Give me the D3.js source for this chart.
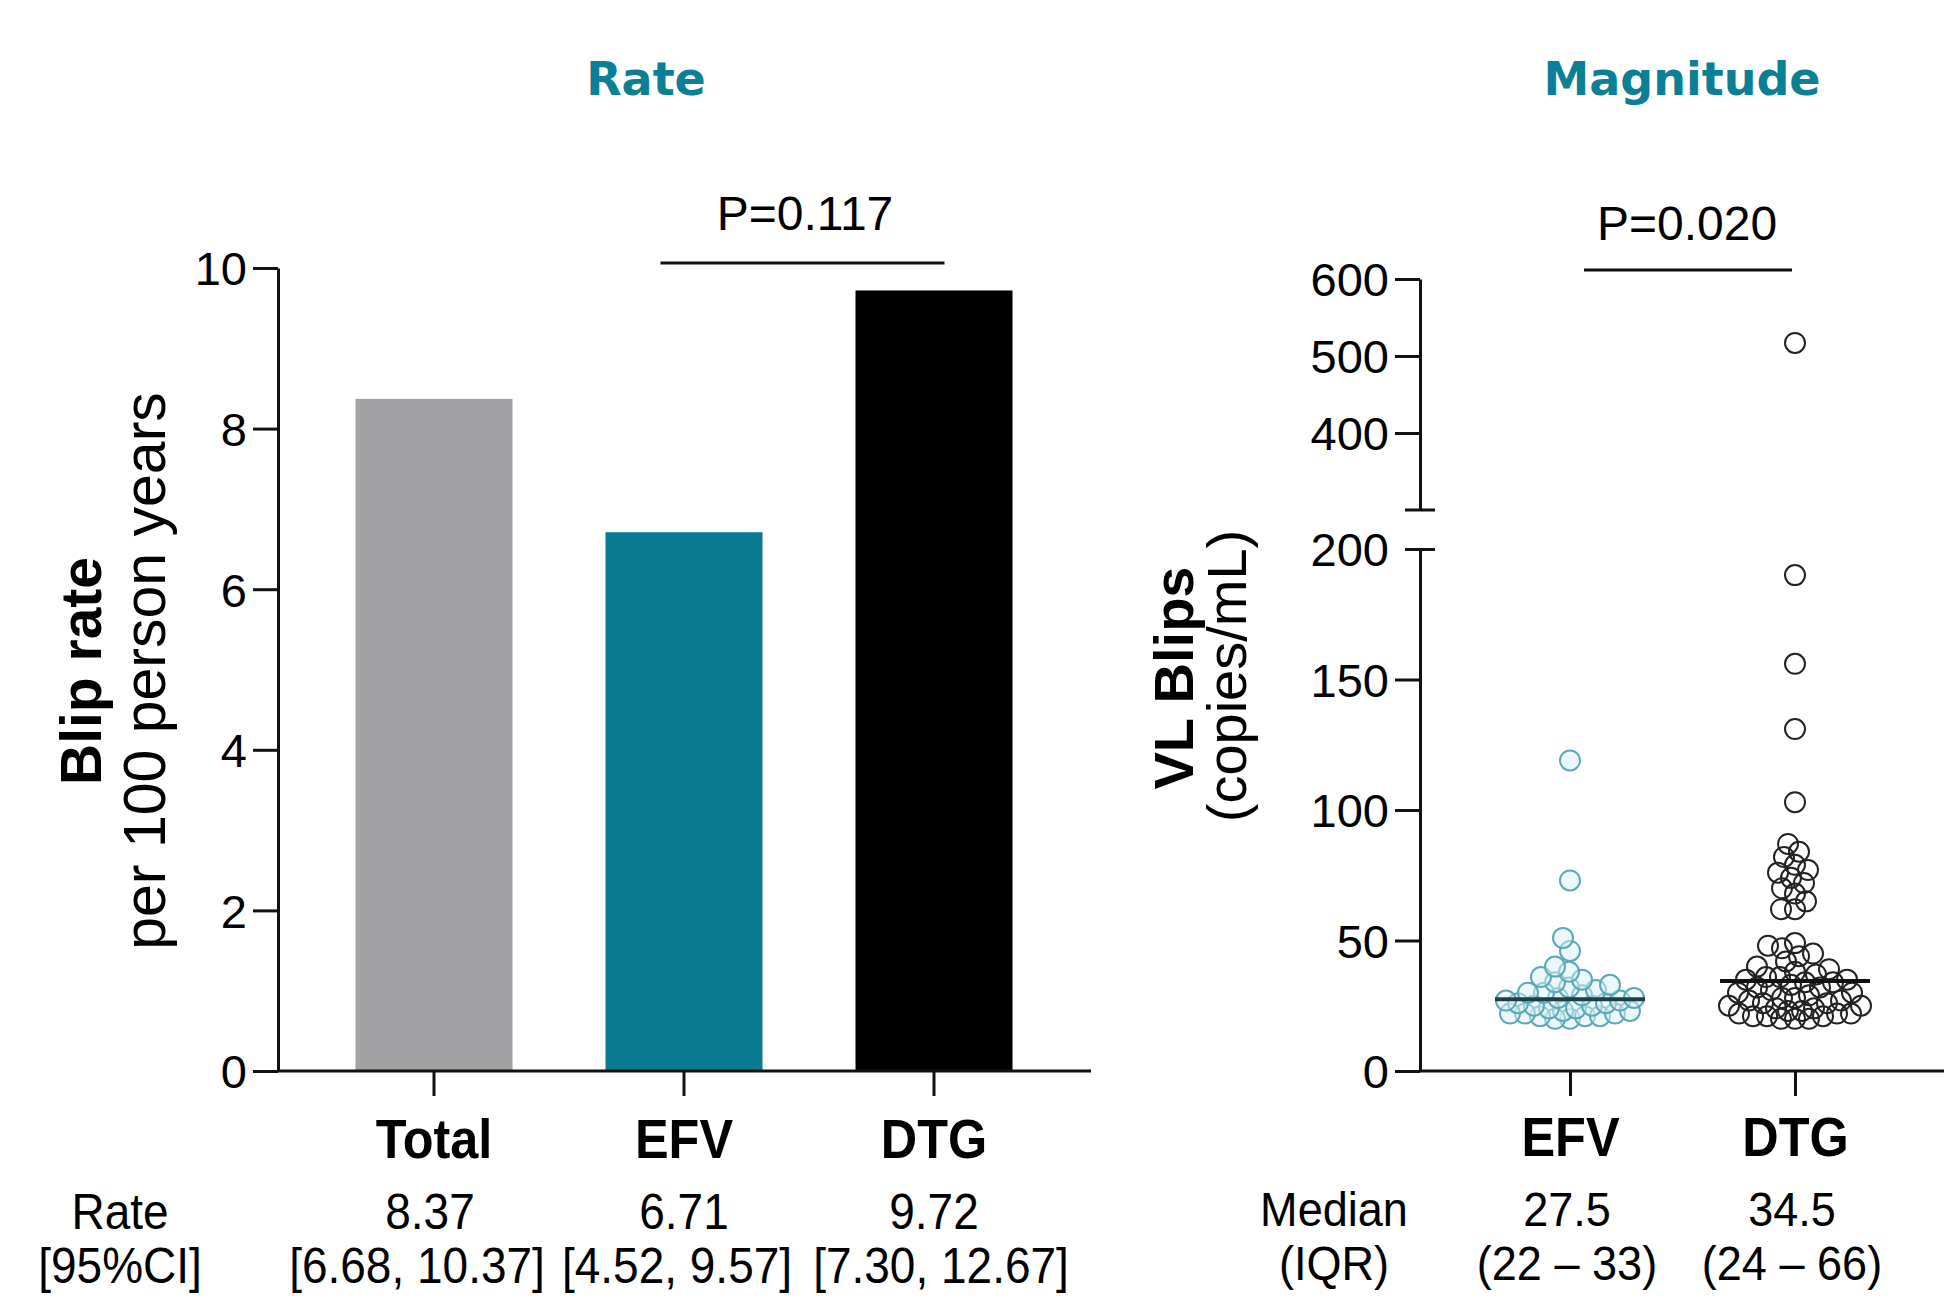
<!DOCTYPE html>
<html>
<head>
<meta charset="utf-8">
<script src="https://cdn.jsdelivr.net/npm/d3@7"></script>
<style>
  html, body { margin: 0; padding: 0; background: #fff; }
  svg { display: block; }
  text { font-family: "Liberation Sans", Arial, sans-serif; fill: #000; }
</style>
</head>
<body>
<svg id="chart" width="1944" height="1303"></svg>
<script>
// ---------- DATA ----------
const rateCategories = ["Total", "EFV", "DTG"];
const rateValues = [8.37, 6.71, 9.72];
const rateCI = ["[6.68, 10.37]", "[4.52, 9.57]", "[7.30, 12.67]"];
const rateTicks = [0, 2, 4, 6, 8, 10];
const barColors = ["#a2a2a5", "#0b7b92", "#000000"];

const blipCategories = ["EFV", "DTG"];
const efvBlips = [119, 73, 51, 46, 40, 38, 36, 35, 34, 33, 32, 31, 30, 30, 29, 28, 28, 27, 27, 26, 26, 25, 25, 24, 24, 23, 23, 22, 22, 22, 21, 21, 21, 20, 20];
const dtgBlips = [517, 190, 156, 131, 103, 87, 84, 82, 79, 77, 76, 74, 72, 70, 68, 65, 62, 62,
  49, 48, 47, 45, 44, 42, 40, 39, 38, 37, 36, 36, 35, 35, 34, 34, 33, 32, 32, 31, 30, 30, 29, 28, 28, 27, 27, 26, 26, 25, 25, 24, 24, 23, 23, 22, 22, 22, 21, 21, 21, 20, 20, 20];
const blipMedians = [27.5, 34.5];
const blipIQR = ["(22 \u2013 33)", "(24 \u2013 66)"];
const lowTicks = [0, 50, 100, 150, 200];
const highTicks = [400, 500, 600];

// ---------- SETUP ----------
const svg = d3.select("#chart");
const teal = "#0a7f96";
const ink = "#111";

function condensed(sel, sx) {
  sel.each(function () {
    const t = d3.select(this);
    const x = +t.attr("x") || 0, y = +t.attr("y") || 0;
    t.attr("x", null).attr("y", null)
     .attr("transform", (t.attr("transform") || "") + ` translate(${x},${y}) scale(${sx},1)`);
  });
}

// Titles
svg.append("text").attr("x", 646).attr("y", 95).attr("text-anchor", "middle")
  .style("font-family", "'DejaVu Sans', Verdana, sans-serif").style("font-weight", "bold")
  .style("font-size", "46px").style("fill", teal).text("Rate");
svg.append("text").attr("x", 1682).attr("y", 95).attr("text-anchor", "middle")
  .style("font-family", "'DejaVu Sans', Verdana, sans-serif").style("font-weight", "bold")
  .style("font-size", "46px").style("fill", teal).text("Magnitude");

// ---------- LEFT: RATE BAR CHART ----------
const yRate = d3.scaleLinear().domain([0, 10]).range([1071, 268]);
const xRate = d3.scaleBand().domain(rateCategories).range([309, 1059]).paddingInner(0.372).paddingOuter(0.186);

const gL = svg.append("g");
gL.selectAll("rect.bar").data(rateCategories).join("rect")
  .attr("class", "bar")
  .attr("x", d => xRate(d))
  .attr("width", xRate.bandwidth())
  .attr("y", (d, i) => yRate(rateValues[i]))
  .attr("height", (d, i) => yRate(0) - yRate(rateValues[i]))
  .attr("fill", (d, i) => barColors[i]);

const yAxisL = gL.append("g").attr("transform", "translate(278,0)")
  .call(d3.axisLeft(yRate).tickValues(rateTicks).tickSize(25).tickSizeOuter(0).tickPadding(6));
const xAxisL = gL.append("g").attr("transform", "translate(0,1071)")
  .call(d3.axisBottom(xRate).tickSize(25).tickSizeOuter(0).tickPadding(22));
xAxisL.select(".domain").remove();
gL.append("line").attr("x1", 278).attr("x2", 1091).attr("y1", 1071).attr("y2", 1071)
  .attr("stroke", ink).attr("stroke-width", 3);

[yAxisL, xAxisL].forEach(a => {
  a.select(".domain").attr("stroke", ink).attr("stroke-width", 3);
  a.selectAll(".tick line").attr("stroke", ink).attr("stroke-width", 3);
});
yAxisL.selectAll(".tick text").style("font-size", "47px").style("font-family", "'Liberation Sans', Arial, sans-serif").attr("dy", "0.36em");
xAxisL.selectAll(".tick text").attr("class", "cat").style("font-size", "56px").style("font-weight", "bold").style("font-family", "'Liberation Sans', Arial, sans-serif").attr("dy", "0.71em");

// y label
svg.append("text").attr("transform", "translate(101,671) rotate(-90)").attr("text-anchor", "middle")
  .style("font-size", "57px").style("font-weight", "bold").text("Blip rate");
svg.append("text").attr("transform", "translate(165,671) rotate(-90)").attr("text-anchor", "middle")
  .style("font-size", "59px").text("per 100 person years");

// P value
svg.append("line").attr("x1", xRate("EFV") + 55).attr("x2", xRate("DTG") + 89).attr("y1", 263).attr("y2", 263)
  .attr("stroke", ink).attr("stroke-width", 3);
svg.append("text").attr("x", 805).attr("y", 230).attr("text-anchor", "middle").style("font-size", "48px").text("P=0.117");

// Rate rows
svg.append("text").attr("class", "rl").attr("x", 120).attr("y", 1229).attr("text-anchor", "middle").style("font-size", "50px").text("Rate");
svg.append("text").attr("class", "rl").attr("x", 120).attr("y", 1283).attr("text-anchor", "middle").style("font-size", "50px").text("[95%CI]");
svg.selectAll("text.rv").data(rateCategories).join("text").attr("class", "rv")
  .attr("x", (d, i) => xRate(d) + xRate.bandwidth() / 2 - (i === 0 ? 4 : 0)).attr("y", 1229).attr("text-anchor", "middle")
  .style("font-size", "50px").text((d, i) => rateValues[i].toFixed(2));
svg.selectAll("text.ci").data(rateCategories).join("text").attr("class", "ci")
  .attr("x", (d, i) => xRate(d) + xRate.bandwidth() / 2 + [-17, -7, 7][i]).attr("y", 1283).attr("text-anchor", "middle")
  .style("font-size", "50px").text((d, i) => rateCI[i]);

// ---------- RIGHT: MAGNITUDE SCATTER ----------
const axX = 1420;
const yLow = d3.scaleLinear().domain([0, 200]).range([1071, 549]);
const yHigh = d3.scaleLinear().domain([300, 600]).range([510, 279]);
const xBlip = d3.scalePoint().domain(blipCategories).range([1570, 1795]);
const yBlip = v => v > 250 ? yHigh(v) : yLow(v);

const gR = svg.append("g");
const axHigh = gR.append("g").attr("transform", `translate(${axX},0)`)
  .call(d3.axisLeft(yHigh).tickValues(highTicks).tickSize(25).tickSizeOuter(0).tickPadding(6));
const axLow = gR.append("g").attr("transform", `translate(${axX},0)`)
  .call(d3.axisLeft(yLow).tickValues(lowTicks).tickSize(25).tickSizeOuter(0).tickPadding(6));
[axHigh, axLow].forEach(a => {
  a.select(".domain").attr("stroke", ink).attr("stroke-width", 3);
  a.selectAll(".tick line").attr("stroke", ink).attr("stroke-width", 3);
  a.selectAll(".tick text").style("font-size", "47px").style("font-family", "'Liberation Sans', Arial, sans-serif").attr("dy", "0.36em");
});
axLow.selectAll(".tick").filter(d => d === 200).select("line").attr("x1", -15).attr("x2", 15);
axLow.selectAll(".tick").filter(d => d === 200).select("text").attr("x", -31);
gR.append("line").attr("x1", axX - 15).attr("x2", axX + 15).attr("y1", yHigh(300)).attr("y2", yHigh(300))
  .attr("stroke", ink).attr("stroke-width", 3);

const xAxisR = gR.append("g").attr("transform", "translate(0,1071)")
  .call(d3.axisBottom(xBlip).tickSize(25).tickSizeOuter(0).tickPadding(20));
xAxisR.select(".domain").remove();
xAxisR.selectAll(".tick line").attr("stroke", ink).attr("stroke-width", 3);
xAxisR.selectAll(".tick text").attr("class", "cat").style("font-size", "56px").style("font-weight", "bold").style("font-family", "'Liberation Sans', Arial, sans-serif").attr("dy", "0.71em");
gR.append("line").attr("x1", axX).attr("x2", 1944).attr("y1", 1071).attr("y2", 1071).attr("stroke", ink).attr("stroke-width", 3);

// beeswarm
function swarm(values, cx, minDist, maxOff) {
  const pts = [];
  const sorted = values.map((v, i) => ({ v, i })).sort((a, b) => a.v - b.v);
  sorted.forEach(p => {
    const y = yBlip(p.v);
    let best = 0, bestScore = Infinity;
    for (let k = 0; k <= maxOff * 2; k++) {
      const dx = (k % 2 === 0 ? 1 : -1) * Math.ceil(k / 2);
      const minD = pts.reduce((m, q) => Math.min(m, Math.hypot(q.x - (cx + dx), q.y - y)), Infinity);
      if (minD >= minDist) { best = dx; bestScore = -1; break; }
      const score = -minD;
      if (score < bestScore) { bestScore = score; best = dx; }
    }
    pts.push({ x: cx + best, y, v: p.v });
  });
  return pts;
}
const efvPts = swarm(efvBlips, xBlip("EFV"), 14.5, 64);
const dtgPts = swarm(dtgBlips, xBlip("DTG"), 13.5, 66);

gR.selectAll("circle.efv").data(efvPts).join("circle").attr("class", "efv")
  .attr("cx", d => d.x).attr("cy", d => d.y).attr("r", 10)
  .attr("fill", "#d8eff3").attr("fill-opacity", 0.5).attr("stroke", "#5da8b6").attr("stroke-width", 2);
gR.selectAll("circle.dtg").data(dtgPts).join("circle").attr("class", "dtg")
  .attr("cx", d => d.x).attr("cy", d => d.y).attr("r", 10)
  .attr("fill", "none").attr("stroke", "#222").attr("stroke-width", 2);

// medians
const medColors = ["#1d3f46", "#111"];
gR.selectAll("line.med").data(blipCategories).join("line").attr("class", "med")
  .attr("x1", d => xBlip(d) - 75).attr("x2", d => xBlip(d) + 75)
  .attr("y1", (d, i) => yLow(blipMedians[i])).attr("y2", (d, i) => yLow(blipMedians[i]))
  .attr("stroke", (d, i) => medColors[i]).attr("stroke-width", 4);

// y label
svg.append("text").attr("transform", "translate(1193,678) rotate(-90)").attr("text-anchor", "middle")
  .style("font-size", "56px").style("font-weight", "bold").text("VL Blips");
svg.append("text").attr("transform", "translate(1246,676) rotate(-90)").attr("text-anchor", "middle")
  .style("font-size", "56px").text("(copies/mL)");

// P value
svg.append("line").attr("x1", xBlip("EFV") + 14).attr("x2", xBlip("DTG") - 3).attr("y1", 270).attr("y2", 270)
  .attr("stroke", ink).attr("stroke-width", 3);
svg.append("text").attr("x", 1687).attr("y", 240).attr("text-anchor", "middle").style("font-size", "48px").text("P=0.020");

// Median rows
svg.append("text").attr("class", "ml").attr("x", 1334).attr("y", 1226).attr("text-anchor", "middle").style("font-size", "49px").text("Median");
svg.append("text").attr("class", "ml").attr("x", 1334).attr("y", 1280).attr("text-anchor", "middle").style("font-size", "49px").text("(IQR)");
svg.selectAll("text.mv").data(blipCategories).join("text").attr("class", "mv")
  .attr("x", d => xBlip(d) - 3).attr("y", 1226).attr("text-anchor", "middle")
  .style("font-size", "49px").text((d, i) => blipMedians[i].toFixed(1));
svg.selectAll("text.iqr").data(blipCategories).join("text").attr("class", "iqr")
  .attr("x", d => xBlip(d) - 3).attr("y", 1280).attr("text-anchor", "middle")
  .style("font-size", "49px").text((d, i) => blipIQR[i]);

condensed(svg.selectAll("text.rv, text.ci, text.mv, text.iqr, text.ml, text.rl"), 0.92);
// category labels: condense around their own anchor
svg.selectAll("text.cat").each(function () {
  const t = d3.select(this);
  const y = +t.attr("y");
  t.attr("y", null).attr("transform", `translate(0,${y}) scale(0.9,1)`);
});
</script>
</body>
</html>
